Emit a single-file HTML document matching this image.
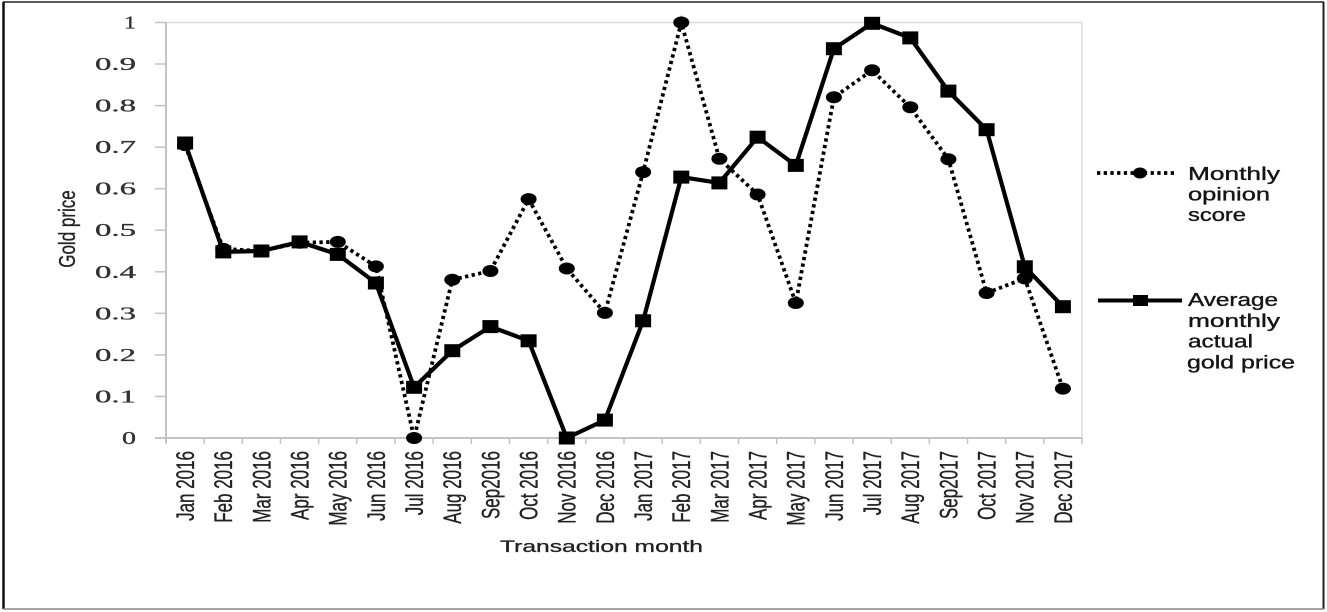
<!DOCTYPE html>
<html>
<head>
<meta charset="utf-8">
<style>
  html,body{margin:0;padding:0;background:#fff;}
  svg{display:block;}
  .yt{font-family:"Liberation Serif",serif;font-size:18px;fill:#333;stroke:#333;stroke-width:0.3;}
  .xt{font-family:"Liberation Sans",sans-serif;font-size:25px;fill:#222;stroke:#222;stroke-width:0.35;}
  .lg{font-family:"Liberation Sans",sans-serif;font-size:18px;fill:#151515;stroke:#151515;stroke-width:0.35;}
</style>
</head>
<body>
<svg width="1327" height="612" viewBox="0 0 1327 612" xmlns="http://www.w3.org/2000/svg">
  <rect x="0" y="0" width="1327" height="612" fill="#fff"/>
  <!-- outer frame -->
  <line x1="3" y1="2" x2="1324" y2="2" stroke="#222" stroke-width="1.5"/>
  <line x1="3.5" y1="2" x2="3.5" y2="609" stroke="#111" stroke-width="2.5"/>
  <line x1="1323.5" y1="2" x2="1323.5" y2="609" stroke="#222" stroke-width="2"/>
  <line x1="3" y1="609" x2="1324" y2="609" stroke="#888" stroke-width="1.5"/>

  <!-- plot area border -->
  <rect x="166" y="22.5" width="916" height="415.5" fill="none" stroke="#dcdcdc" stroke-width="1.5"/>
  <!-- axes -->
  <line x1="166" y1="22" x2="166" y2="443" stroke="#c4c4c4" stroke-width="2"/>
  <line x1="155" y1="438" x2="1082" y2="438" stroke="#c4c4c4" stroke-width="2"/>
  <g stroke="#c4c4c4" stroke-width="1.5">
    <line x1="155" y1="22.5" x2="166" y2="22.5"/>
    <line x1="155" y1="64" x2="166" y2="64"/>
    <line x1="155" y1="105.6" x2="166" y2="105.6"/>
    <line x1="155" y1="147.2" x2="166" y2="147.2"/>
    <line x1="155" y1="188.7" x2="166" y2="188.7"/>
    <line x1="155" y1="230.2" x2="166" y2="230.2"/>
    <line x1="155" y1="271.8" x2="166" y2="271.8"/>
    <line x1="155" y1="313.3" x2="166" y2="313.3"/>
    <line x1="155" y1="354.9" x2="166" y2="354.9"/>
    <line x1="155" y1="396.4" x2="166" y2="396.4"/>
  </g>
  <g stroke="#c4c4c4" stroke-width="1.5">
    <line x1="166" y1="438" x2="166" y2="444"/>
    <line x1="204.2" y1="438" x2="204.2" y2="444"/>
    <line x1="242.3" y1="438" x2="242.3" y2="444"/>
    <line x1="280.5" y1="438" x2="280.5" y2="444"/>
    <line x1="318.7" y1="438" x2="318.7" y2="444"/>
    <line x1="356.8" y1="438" x2="356.8" y2="444"/>
    <line x1="395" y1="438" x2="395" y2="444"/>
    <line x1="433.2" y1="438" x2="433.2" y2="444"/>
    <line x1="471.3" y1="438" x2="471.3" y2="444"/>
    <line x1="509.5" y1="438" x2="509.5" y2="444"/>
    <line x1="547.7" y1="438" x2="547.7" y2="444"/>
    <line x1="585.8" y1="438" x2="585.8" y2="444"/>
    <line x1="624" y1="438" x2="624" y2="444"/>
    <line x1="662.2" y1="438" x2="662.2" y2="444"/>
    <line x1="700.3" y1="438" x2="700.3" y2="444"/>
    <line x1="738.5" y1="438" x2="738.5" y2="444"/>
    <line x1="776.7" y1="438" x2="776.7" y2="444"/>
    <line x1="814.8" y1="438" x2="814.8" y2="444"/>
    <line x1="853" y1="438" x2="853" y2="444"/>
    <line x1="891.2" y1="438" x2="891.2" y2="444"/>
    <line x1="929.3" y1="438" x2="929.3" y2="444"/>
    <line x1="967.5" y1="438" x2="967.5" y2="444"/>
    <line x1="1005.7" y1="438" x2="1005.7" y2="444"/>
    <line x1="1043.8" y1="438" x2="1043.8" y2="444"/>
    <line x1="1082" y1="438" x2="1082" y2="444"/>
  </g>

  <!-- y tick labels -->
  <g class="yt" text-anchor="end">
    <text x="136" y="28.5" textLength="12" lengthAdjust="spacingAndGlyphs">1</text>
    <text x="136" y="70" textLength="41" lengthAdjust="spacingAndGlyphs">0.9</text>
    <text x="136" y="111.6" textLength="41" lengthAdjust="spacingAndGlyphs">0.8</text>
    <text x="136" y="153.2" textLength="41" lengthAdjust="spacingAndGlyphs">0.7</text>
    <text x="136" y="194.7" textLength="41" lengthAdjust="spacingAndGlyphs">0.6</text>
    <text x="136" y="236.2" textLength="41" lengthAdjust="spacingAndGlyphs">0.5</text>
    <text x="136" y="277.8" textLength="41" lengthAdjust="spacingAndGlyphs">0.4</text>
    <text x="136" y="319.3" textLength="41" lengthAdjust="spacingAndGlyphs">0.3</text>
    <text x="136" y="360.9" textLength="41" lengthAdjust="spacingAndGlyphs">0.2</text>
    <text x="136" y="402.4" textLength="41" lengthAdjust="spacingAndGlyphs">0.1</text>
    <text x="136" y="444" textLength="14" lengthAdjust="spacingAndGlyphs">0</text>
  </g>

  <!-- y axis title -->
  <text transform="translate(75,229) rotate(-90) scale(0.74,1)" text-anchor="middle" style="font-family:'Liberation Sans',sans-serif;font-size:23px;fill:#222;stroke:#222;stroke-width:0.3;">Gold price</text>

  <!-- x tick labels -->
  <g class="xt" text-anchor="end">
    <text transform="translate(194,451) rotate(-90) scale(0.68,1)">Jan 2016</text>
    <text transform="translate(232.2,451) rotate(-90) scale(0.68,1)">Feb 2016</text>
    <text transform="translate(270.4,451) rotate(-90) scale(0.68,1)">Mar 2016</text>
    <text transform="translate(308.6,451) rotate(-90) scale(0.68,1)">Apr 2016</text>
    <text transform="translate(346.7,451) rotate(-90) scale(0.68,1)">May 2016</text>
    <text transform="translate(384.9,451) rotate(-90) scale(0.68,1)">Jun 2016</text>
    <text transform="translate(423.1,451) rotate(-90) scale(0.68,1)">Jul 2016</text>
    <text transform="translate(461.2,451) rotate(-90) scale(0.68,1)">Aug 2016</text>
    <text transform="translate(499.4,451) rotate(-90) scale(0.68,1)">Sep2016</text>
    <text transform="translate(537.6,451) rotate(-90) scale(0.68,1)">Oct 2016</text>
    <text transform="translate(575.7,451) rotate(-90) scale(0.68,1)">Nov 2016</text>
    <text transform="translate(613.9,451) rotate(-90) scale(0.68,1)">Dec 2016</text>
    <text transform="translate(652.1,451) rotate(-90) scale(0.68,1)">Jan 2017</text>
    <text transform="translate(690.2,451) rotate(-90) scale(0.68,1)">Feb 2017</text>
    <text transform="translate(728.4,451) rotate(-90) scale(0.68,1)">Mar 2017</text>
    <text transform="translate(766.6,451) rotate(-90) scale(0.68,1)">Apr 2017</text>
    <text transform="translate(804.7,451) rotate(-90) scale(0.68,1)">May 2017</text>
    <text transform="translate(842.9,451) rotate(-90) scale(0.68,1)">Jun 2017</text>
    <text transform="translate(881.1,451) rotate(-90) scale(0.68,1)">Jul 2017</text>
    <text transform="translate(919.2,451) rotate(-90) scale(0.68,1)">Aug 2017</text>
    <text transform="translate(957.4,451) rotate(-90) scale(0.68,1)">Sep2017</text>
    <text transform="translate(995.6,451) rotate(-90) scale(0.68,1)">Oct 2017</text>
    <text transform="translate(1033.7,451) rotate(-90) scale(0.68,1)">Nov 2017</text>
    <text transform="translate(1071.9,451) rotate(-90) scale(0.68,1)">Dec 2017</text>
  </g>

  <!-- x axis title -->
  <text x="500" y="552" textLength="203" lengthAdjust="spacingAndGlyphs" style="font-family:'Liberation Sans',sans-serif;font-size:16.5px;fill:#222;stroke:#222;stroke-width:0.3;">Transaction month</text>

  <!-- Opinion series (dotted) -->
  <polyline fill="none" stroke="#000" stroke-width="3.8" stroke-dasharray="3.3 3.4"
    points="185.1,145.1 223.3,248.9 261.4,251.0 299.6,242.7 337.8,241.9 375.9,266.4 414.1,438 452.3,279.7 490.4,271.0 528.6,199.1 566.8,268.5 604.9,312.9 643.1,172.1 681.3,22.5 719.4,158.8 757.6,194.5 795.8,303.0 833.9,97.3 872.1,70.3 910.3,107.3 948.4,159.2 986.6,293.0 1024.8,278.4 1062.9,388.6"/>
  <g fill="#000">
    <ellipse cx="185.1" cy="145.1" rx="8" ry="6"/>
    <ellipse cx="223.3" cy="248.9" rx="8" ry="6"/>
    <ellipse cx="261.4" cy="251.0" rx="8" ry="6"/>
    <ellipse cx="299.6" cy="242.7" rx="8" ry="6"/>
    <ellipse cx="337.8" cy="241.9" rx="8" ry="6"/>
    <ellipse cx="375.9" cy="266.4" rx="8" ry="6"/>
    <ellipse cx="414.1" cy="438" rx="8" ry="6"/>
    <ellipse cx="452.3" cy="279.7" rx="8" ry="6"/>
    <ellipse cx="490.4" cy="271.0" rx="8" ry="6"/>
    <ellipse cx="528.6" cy="199.1" rx="8" ry="6"/>
    <ellipse cx="566.8" cy="268.5" rx="8" ry="6"/>
    <ellipse cx="604.9" cy="312.9" rx="8" ry="6"/>
    <ellipse cx="643.1" cy="172.1" rx="8" ry="6"/>
    <ellipse cx="681.3" cy="22.5" rx="8" ry="6"/>
    <ellipse cx="719.4" cy="158.8" rx="8" ry="6"/>
    <ellipse cx="757.6" cy="194.5" rx="8" ry="6"/>
    <ellipse cx="795.8" cy="303.0" rx="8" ry="6"/>
    <ellipse cx="833.9" cy="97.3" rx="8" ry="6"/>
    <ellipse cx="872.1" cy="70.3" rx="8" ry="6"/>
    <ellipse cx="910.3" cy="107.3" rx="8" ry="6"/>
    <ellipse cx="948.4" cy="159.2" rx="8" ry="6"/>
    <ellipse cx="986.6" cy="293.0" rx="8" ry="6"/>
    <ellipse cx="1024.8" cy="278.4" rx="8" ry="6"/>
    <ellipse cx="1062.9" cy="388.6" rx="8" ry="6"/>
  </g>

  <!-- Gold series (solid) -->
  <polyline fill="none" stroke="#000" stroke-width="4.2" stroke-linejoin="round"
    points="185.1,143.0 223.3,251.9 261.4,251.0 299.6,241.9 337.8,254.4 375.9,283.0 414.1,387.3 452.3,350.7 490.4,326.6 528.6,340.8 566.8,438 604.9,420.1 643.1,320.8 681.3,177.1 719.4,182.9 757.6,137.2 795.8,165.4 833.9,48.7 872.1,23.3 910.3,37.9 948.4,91.1 986.6,129.7 1024.8,266.8 1062.9,306.7"/>
  <g fill="#000">
    <rect x="177.1" y="136.5" width="16" height="13"/>
    <rect x="215.3" y="245.4" width="16" height="13"/>
    <rect x="253.4" y="244.5" width="16" height="13"/>
    <rect x="291.6" y="235.4" width="16" height="13"/>
    <rect x="329.8" y="247.9" width="16" height="13"/>
    <rect x="367.9" y="276.5" width="16" height="13"/>
    <rect x="406.1" y="380.8" width="16" height="13"/>
    <rect x="444.3" y="344.2" width="16" height="13"/>
    <rect x="482.4" y="320.1" width="16" height="13"/>
    <rect x="520.6" y="334.3" width="16" height="13"/>
    <rect x="558.8" y="431.5" width="16" height="13"/>
    <rect x="596.9" y="413.6" width="16" height="13"/>
    <rect x="635.1" y="314.3" width="16" height="13"/>
    <rect x="673.3" y="170.6" width="16" height="13"/>
    <rect x="711.4" y="176.4" width="16" height="13"/>
    <rect x="749.6" y="130.7" width="16" height="13"/>
    <rect x="787.8" y="158.9" width="16" height="13"/>
    <rect x="825.9" y="42.2" width="16" height="13"/>
    <rect x="864.1" y="16.8" width="16" height="13"/>
    <rect x="902.3" y="31.4" width="16" height="13"/>
    <rect x="940.4" y="84.6" width="16" height="13"/>
    <rect x="978.6" y="123.2" width="16" height="13"/>
    <rect x="1016.8" y="260.3" width="16" height="13"/>
    <rect x="1054.9" y="300.2" width="16" height="13"/>
  </g>

  <!-- Legend -->
  <line x1="1097" y1="173" x2="1176" y2="173" stroke="#000" stroke-width="3.8" stroke-dasharray="3.3 3.4"/>
  <ellipse cx="1140" cy="173" rx="7" ry="5.5" fill="#000"/>
  <line x1="1098" y1="300.5" x2="1182" y2="300.5" stroke="#000" stroke-width="4"/>
  <rect x="1133" y="295" width="15" height="11" fill="#000"/>

  <g class="lg">
    <text x="1188" y="180" textLength="92" lengthAdjust="spacingAndGlyphs">Monthly</text>
    <text x="1188" y="200.5" textLength="82" lengthAdjust="spacingAndGlyphs">opinion</text>
    <text x="1188" y="221" textLength="58" lengthAdjust="spacingAndGlyphs">score</text>
    <text x="1188" y="306" textLength="90" lengthAdjust="spacingAndGlyphs">Average</text>
    <text x="1188" y="327" textLength="92" lengthAdjust="spacingAndGlyphs">monthly</text>
    <text x="1188" y="347.5" textLength="65" lengthAdjust="spacingAndGlyphs">actual</text>
    <text x="1187" y="368.5" textLength="108" lengthAdjust="spacingAndGlyphs">gold price</text>
  </g>
</svg>
</body>
</html>
